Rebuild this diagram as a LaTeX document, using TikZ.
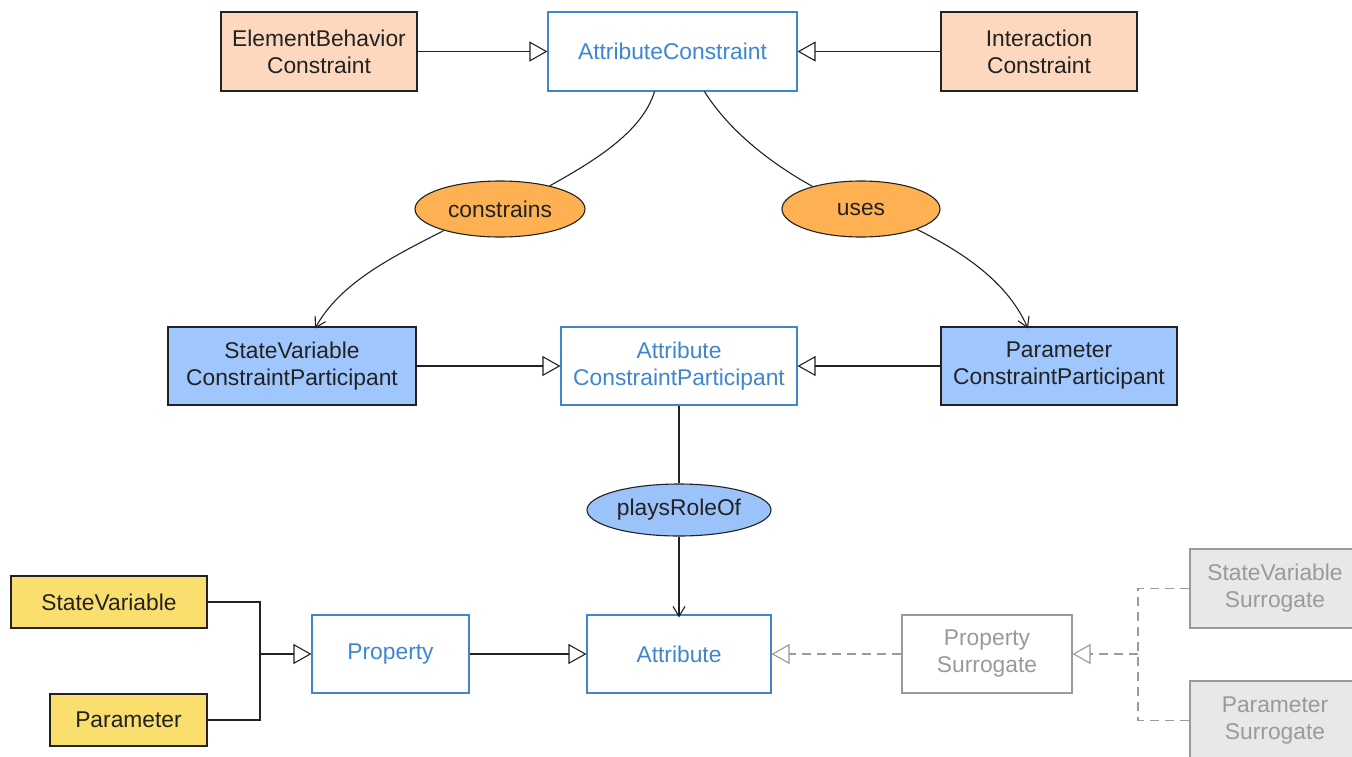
\documentclass[tikz,border=0pt]{standalone}
\usepackage{fontspec}
\setmainfont{Liberation Sans}
\usetikzlibrary{arrows.meta,shapes.geometric}

\definecolor{peach}{HTML}{FDD8BE}
\definecolor{orangefill}{HTML}{FDB152}
\definecolor{bluefill}{HTML}{A0C6FE}
\definecolor{rolefill}{HTML}{9CC2FA}
\definecolor{yellowfill}{HTML}{FADE6E}
\definecolor{greyfill}{HTML}{E8E8E8}
\definecolor{corebl}{HTML}{3E86CF}
\definecolor{greyline}{HTML}{9A9A9A}
\definecolor{ink}{HTML}{222222}

\tikzset{
  base/.style={rectangle, inner sep=0pt, align=center,
    font=\fontsize{22.8}{27}\selectfont, line width=1.1pt},
  corebox/.style={base, draw=corebl, fill=white, text=corebl},
  subbox/.style={base, draw=ink, text=ink},
  surrbox/.style={base, draw=greyline, text=greyline},
  relation/.style={ellipse, draw=ink, line width=1.1pt, inner sep=0pt,
    font=\fontsize{22.8}{27}\selectfont, text=ink},
  isa/.style={draw=ink, line width=1.1pt,
    -{Triangle[open,length=18pt,width=20pt,line width=1.1pt]}},
  isadash/.style={draw=greyline, line width=1.1pt, dash pattern=on 9pt off 6pt,
    -{Triangle[open,length=18pt,width=20pt,line width=1.1pt]}},
  plainlink/.style={draw=ink, line width=1.1pt},
  dashlink/.style={draw=greyline, line width=1.1pt, dash pattern=on 9pt off 6pt},
  rolelink/.style={draw=ink, line width=1.1pt,
    -{Straight Barb[length=10pt,width=12pt,line width=1.1pt]}},
}

\begin{document}
\begin{tikzpicture}[x=1pt,y=-1pt]
\useasboundingbox (0,0) rectangle (1352,756);

% top row
\node[subbox, fill=peach, minimum width=196pt, minimum height=79pt] (ebc) at (319,51.5) {ElementBehavior\\Constraint};
\node[corebox, minimum width=249pt, minimum height=79pt] (ac) at (672.5,51.5) {AttributeConstraint};
\node[subbox, fill=peach, minimum width=196pt, minimum height=79pt] (ic) at (1039,51.5) {Interaction\\Constraint};

% relations
\node[relation, fill=orangefill, minimum width=170pt, minimum height=56pt] (cons) at (500,209) {constrains};
\node[relation, fill=orangefill, minimum width=158pt, minimum height=56pt] (uses) at (861,209) {uses};

% participant row
\node[subbox, fill=bluefill, minimum width=248pt, minimum height=78pt] (svcp) at (292,366) {StateVariable\\ConstraintParticipant};
\node[corebox, minimum width=236pt, minimum height=78pt] (acp) at (679,366) {Attribute\\ConstraintParticipant};
\node[subbox, fill=bluefill, minimum width=236pt, minimum height=78pt] (pcp) at (1059,366) {Parameter\\ConstraintParticipant};

\node[relation, fill=rolefill, minimum width=184pt, minimum height=52pt] (role) at (679,510) {playsRoleOf};

% bottom row
\node[subbox, fill=yellowfill, minimum width=196pt, minimum height=52pt] (sv) at (109,602) {StateVariable};
\node[subbox, fill=yellowfill, minimum width=157pt, minimum height=52pt] (par) at (128.5,720) {Parameter};
\node[corebox, minimum width=157pt, minimum height=78pt] (prop) at (390.5,654) {Property};
\node[corebox, minimum width=184pt, minimum height=78pt] (attr) at (679,654) {Attribute};
\node[surrbox, fill=white, minimum width=170pt, minimum height=78pt] (psur) at (987,654) {Property\\Surrogate};
\node[surrbox, fill=greyfill, minimum width=170pt, minimum height=79pt] (svs) at (1275,588.5) {StateVariable\\Surrogate};
\node[surrbox, fill=greyfill, minimum width=170pt, minimum height=79pt] (ps) at (1275,720.5) {Parameter\\Surrogate};

% junction points of the merged generalisations
\coordinate (jl) at (260,654);
\coordinate (jr) at (1138,654);

% generalisations
\draw[isa] (ebc.east) -- (ac.west);
\draw[isa] (ic.west) -- (ac.east);
\draw[isa] (svcp.east) -- (acp.west);
\draw[isa] (pcp.west) -- (acp.east);
\draw[isa] (prop.east) -- (attr.west);
\draw[plainlink] (sv.east) -| (jl) |- (par.east);
\draw[isa] (jl) -- (prop.west);
\draw[isadash] (psur.west) -- (attr.east);
\draw[dashlink] (svs.west) -| (jr) |- (ps.west);
\draw[isadash] (jr) -- (psur.east);

% relation links
\draw[plainlink] ([xshift=-18pt]ac.south) .. controls +(-12,40) and +(45,-25) .. (cons.25);
\draw[rolelink] (cons.201) .. controls +(-55,28) and +(25,-45) .. ([xshift=23pt,yshift=-2pt]svcp.north);
\draw[plainlink] ([xshift=32pt]ac.south) .. controls +(25,40) and +(-40,-22) .. (uses.155);
\draw[rolelink] (uses.340) .. controls +(50,25) and +(-20,-45) .. ([xshift=-31pt,yshift=-2pt]pcp.north);
\draw[plainlink] (acp.south) -- (role.north);
\draw[rolelink] (role.south) -- ([yshift=-3pt]attr.north);

\end{tikzpicture}
\end{document}
